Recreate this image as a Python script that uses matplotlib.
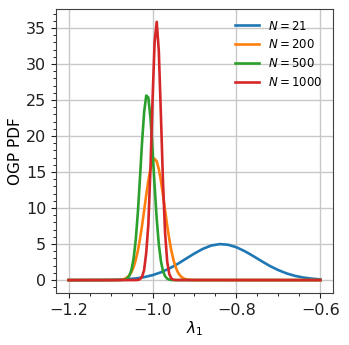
import numpy as np
import matplotlib
matplotlib.use("Agg")
import matplotlib.pyplot as plt

# values
x21 = [-1.20, -1.18, -1.16, -1.14, -1.12, -1.10, -1.08, -1.06, -1.04, -1.02,
       -1.00, -0.98, -0.96, -0.94, -0.92, -0.90, -0.88, -0.86, -0.84, -0.82,
       -0.80, -0.78, -0.76, -0.74, -0.72, -0.70, -0.68, -0.66, -0.64, -0.62, -0.60]
y21 = [0.0003, 0.0008, 0.002, 0.005, 0.013, 0.029, 0.061, 0.122, 0.23, 0.41,
       0.685, 1.08, 1.61, 2.25, 2.98, 3.70, 4.34, 4.80, 5.00, 4.91,
       4.56, 4.01, 3.34, 2.63, 1.95, 1.38, 0.92, 0.58, 0.35, 0.20, 0.10]

x200 = [-1.20, -1.090, -1.085, -1.080, -1.075, -1.070, -1.065, -1.060, -1.055, -1.050,
        -1.045, -1.040, -1.035, -1.030, -1.025, -1.020, -1.015, -1.010, -1.005,
        -1.000, -0.995, -0.990, -0.985, -0.980, -0.975, -0.970, -0.965, -0.960,
        -0.955, -0.950, -0.945, -0.940, -0.935, -0.930, -0.925, -0.920, -0.915,
        -0.910, -0.905, -0.900, -0.60]
y200 = [0.0, 0.005, 0.012, 0.027, 0.056, 0.11, 0.21, 0.39, 0.68, 1.14,
        1.82, 2.78, 4.06, 5.66, 7.56, 9.66, 11.8, 13.79, 15.42,
        16.48, 16.85, 16.48, 15.42, 13.79, 11.8, 9.66, 7.56, 5.66,
        4.06, 2.78, 1.82, 1.14, 0.68, 0.39, 0.21, 0.11, 0.056,
        0.027, 0.012, 0.005, 0.0]

x500 = [-1.20, -1.075, -1.070, -1.065, -1.060, -1.055, -1.050, -1.045, -1.040, -1.035,
        -1.030, -1.025, -1.020, -1.015, -1.010, -1.005, -1.000, -0.995, -0.990,
        -0.985, -0.980, -0.975, -0.970, -0.965, -0.960, -0.955, -0.950, -0.60]
y500 = [0.0, 0.008, 0.03, 0.09, 0.25, 0.64, 1.46, 3.01, 5.59, 9.35,
        14.09, 19.1, 23.3, 25.63, 25.36, 22.6, 18.1, 13.08, 8.5,
        4.98, 2.63, 1.25, 0.53, 0.20, 0.07, 0.02, 0.005, 0.0]

x1000 = [-1.20, -1.040, -1.035, -1.030, -1.025, -1.020, -1.015, -1.010, -1.005, -1.000,
         -0.995, -0.990, -0.985, -0.980, -0.975, -0.970, -0.965, -0.960, -0.955,
         -0.950, -0.945, -0.60]
y1000 = [0.0, 0.005, 0.03, 0.12, 0.45, 1.4, 3.8, 7.67, 15.3, 24.9,
         33.1, 35.86, 31.8, 22.9, 13.5, 6.52, 2.57, 0.82, 0.22,
         0.05, 0.01, 0.0]

labels = [r'$N=21$', r'$N=200$', r'$N=500$', r'$N=1000$']

fig = plt.figure(figsize=(3.49, 3.45), dpi=100)
ax = fig.add_axes([0.1605, 0.1507, 0.7935, 0.8233])

for xs, ys, lab in zip([x21, x200, x500, x1000], [y21, y200, y500, y1000], labels):
    ax.plot(xs, ys, label=lab, lw=1.9)

ax.set_xticks([-1.2, -1.0, -0.8, -0.6])
ax.set_yticks([0, 5, 10, 15, 20, 25, 30, 35])
ax.minorticks_on()
ax.grid(True, which='major', color='#c8c8c8', lw=1.0)
for sp in ax.spines.values():
    sp.set_color('#404040')
ax.tick_params(labelsize=11.5, colors='#202020')
ax.set_xlabel(r'$\lambda_1$', fontsize=11, labelpad=1)
ax.set_ylabel('OGP PDF', fontsize=11, labelpad=2)
ax.legend(frameon=False, fontsize=8.5, loc='upper right')

fig.savefig('out.png', dpi=100)
